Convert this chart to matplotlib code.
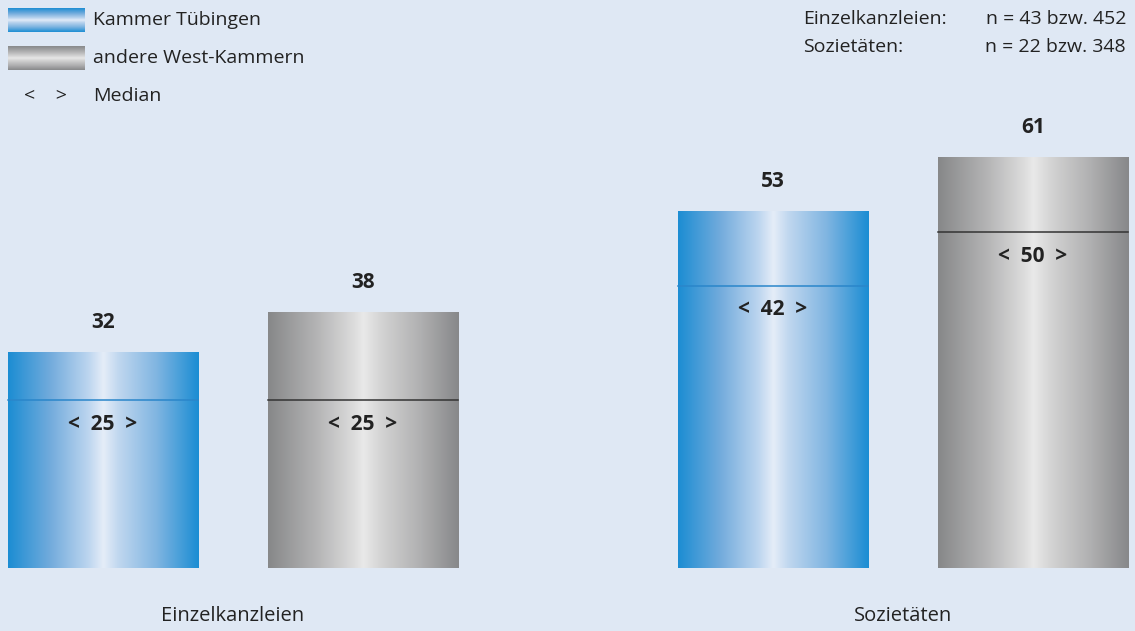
import numpy as np
import matplotlib
matplotlib.use("Agg")
import matplotlib.pyplot as plt
from matplotlib.colors import LinearSegmentedColormap

plt.rcParams['font.family'] = ['Open Sans', 'DejaVu Sans']

# data
groups = ['Einzelkanzleien', 'Sozietäten']
series = ['Kammer Tübingen', 'andere West-Kammern']
means_tue = [32, 53]
means_west = [38, 61]
median_tue = [25, 42]
median_west = [25, 50]
n_lines = [('Einzelkanzleien:', 'n = 43 bzw. 452'),
           ('Sozietäten:', 'n = 22 bzw. 348')]

bg = '#dfe8f4'
txt = '#222222'
blue_cm = LinearSegmentedColormap.from_list('blue', [
    (0.0, '#1c8dd3'), (0.22, '#72abdc'), (0.42, '#bcd5ef'), (0.5, '#e5edf8'),
    (0.58, '#c0d7ef'), (0.78, '#80b5e1'), (1.0, '#1b8dd3')])
gray_cm = LinearSegmentedColormap.from_list('gray', [
    (0.0, '#878889'), (0.25, '#b3b3b4'), (0.45, '#dcdcdc'), (0.5, '#e9e9e9'),
    (0.6, '#d2d2d2'), (0.8, '#b0b0b1'), (1.0, '#87888a')])

fig = plt.figure(figsize=(11.35, 6.31), dpi=100, facecolor=bg)
ax = fig.add_axes([0, 0, 1, 1])
ax.set_facecolor(bg)
ax.set_xlim(-0.3478, 1.3463)
ax.set_ylim(-9.375, 84.5)
ax.axis('off')

grad = np.linspace(0, 1, 256).reshape(1, -1)
offset = 0.194
width = 0.2836

def cyl_bar(x, h, med, cmap, linecol):
    ax.imshow(grad, cmap=cmap, aspect='auto', interpolation='bicubic',
              extent=(x - width / 2, x + width / 2, 0, h), zorder=2)
    ax.plot([x - width / 2, x + width / 2], [med, med], color=linecol, lw=1.1, zorder=3)
    ax.text(x, h + 4.5, str(h), ha='center', va='center', fontsize=15,
            fontweight='bold', color=txt)
    ax.text(x, med - 3.6, '<  %d  >' % med, ha='center', va='center', fontsize=15,
            fontweight='bold', color=txt, zorder=4)

for i, g in enumerate(groups):
    cyl_bar(i - offset, means_tue[i], median_tue[i], blue_cm, '#2a86ca')
    cyl_bar(i + offset, means_west[i], median_west[i], gray_cm, '#333333')
    ax.text(i, -7.1, g, ha='center', va='center', fontsize=14.5, color=txt)

# legend (figure pixel coords)
vgrad = np.linspace(0, 1, 256).reshape(-1, 1)
for cm, label, y0 in [(blue_cm, series[0], 8), (gray_cm, series[1], 46)]:
    sax = fig.add_axes([8 / 1135, 1 - (y0 + 24) / 631, 77 / 1135, 24 / 631])
    sax.imshow(vgrad, cmap=cm, aspect='auto', interpolation='bicubic')
    sax.axis('off')
    fig.text(93 / 1135, 1 - (y0 + 12) / 631, label, ha='left', va='center',
             fontsize=14, color=txt)
fig.text(45 / 1135, 1 - 96 / 631, '<    >', ha='center', va='center', fontsize=14, color=txt)
fig.text(93 / 1135, 1 - 96 / 631, 'Median', ha='left', va='center', fontsize=14, color=txt)

# sample sizes
for k, (a, b) in enumerate(n_lines):
    y = 1 - (19 + 28 * k) / 631
    fig.text(803 / 1135, y, a, ha='left', va='center', fontsize=14, color=txt)
    fig.text(1126 / 1135, y, b, ha='right', va='center', fontsize=14, color=txt)

fig.savefig('out.png', dpi=100, facecolor=bg)
